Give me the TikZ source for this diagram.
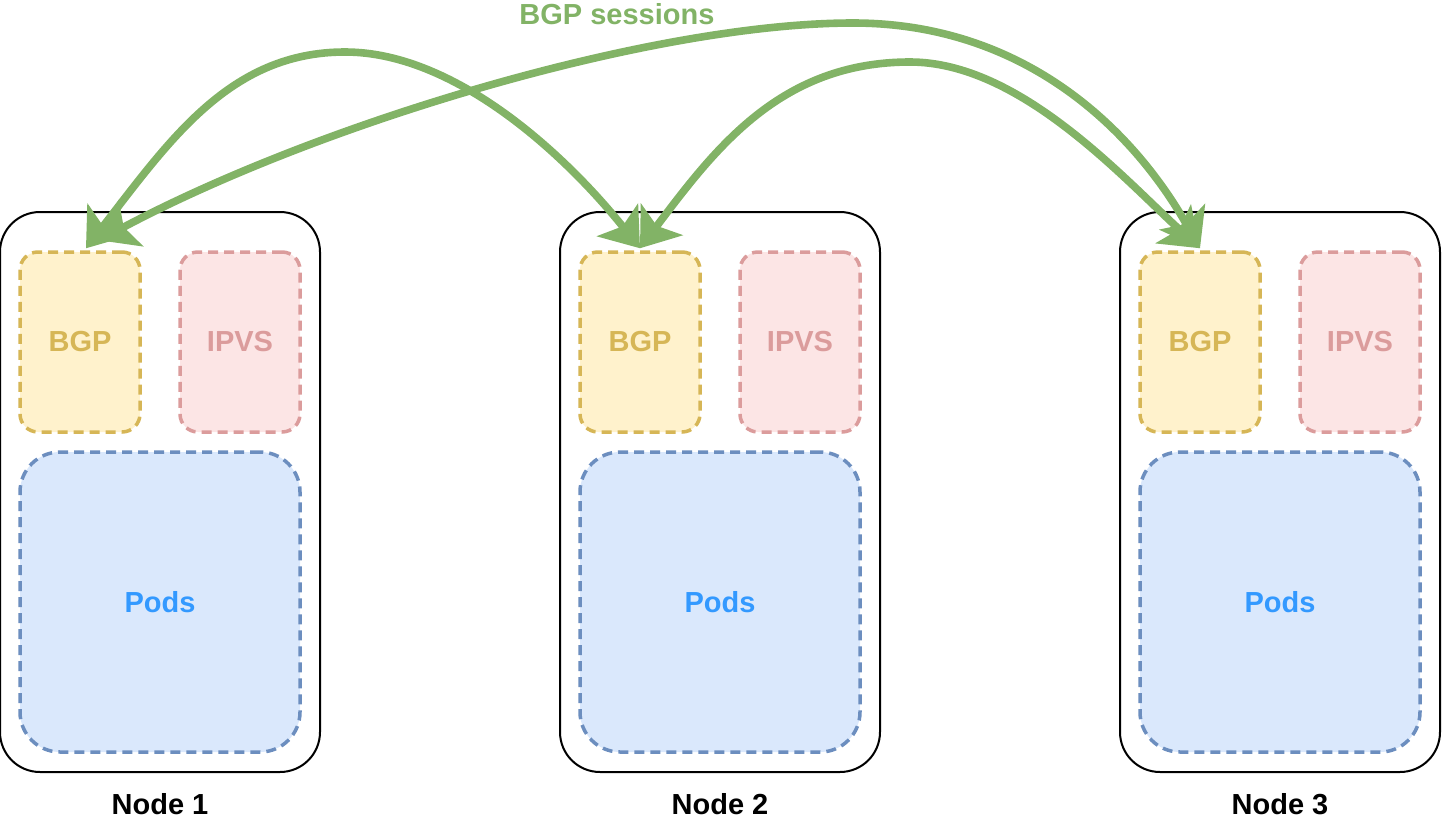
\documentclass[tikz,border=0pt]{standalone}
\usepackage{fontspec}
\setmainfont{Liberation Sans}
\usepackage{tikz}
\usetikzlibrary{arrows.meta,positioning}
\usepackage{xcolor}
\definecolor{sessiongreen}{RGB}{130,179,102}
\definecolor{bgpfill}{RGB}{255,242,204}
\definecolor{bgpline}{RGB}{214,182,86}
\definecolor{ipvsfill}{RGB}{252,229,229}
\definecolor{ipvsline}{RGB}{219,156,156}
\definecolor{podfill}{RGB}{218,232,252}
\definecolor{podline}{RGB}{108,142,191}
\definecolor{podtext}{RGB}{51,153,255}

\begin{document}
\begin{tikzpicture}[x=0.5pt,y=-0.5pt,
    label font/.style={font=\bfseries\fontsize{14.5}{17}\selectfont},
    hostbox/.style={draw=black,line width=1pt,rounded corners=20pt,minimum width=160pt,minimum height=280pt},
    inner box/.style={line width=1.75pt,dash pattern=on 5pt off 3pt,label font},
    bgpbox/.style={inner box,draw=bgpline,fill=bgpfill,text=bgpline,rounded corners=9pt,minimum width=60pt,minimum height=90pt},
    ipvsbox/.style={inner box,draw=ipvsline,fill=ipvsfill,text=ipvsline,rounded corners=9pt,minimum width=60pt,minimum height=90pt},
    podbox/.style={inner box,draw=podline,fill=podfill,text=podtext,rounded corners=20pt,minimum width=140pt,minimum height=150pt},
    hostlabel/.style={label font,inner sep=0pt},
    bgplink/.style={<->,>={Stealth[length=18pt,width=26pt,inset=4pt]},line width=3.8pt,color=sessiongreen}]
    \useasboundingbox (0,0) rectangle (1442,820);
    \node[hostbox] (host1) at (160,492) {}; % node 1
    \node[bgpbox] (bgp1) at (80,342) {BGP};
    \node[ipvsbox] (ipvs1) at (240,342) {IPVS};
    \node[podbox] (pods1) at (160,602) {Pods};
    \node[hostlabel,below=10pt of host1] (name1) {Node 1};
    \node[hostbox] (host2) at (720,492) {}; % node 2
    \node[bgpbox] (bgp2) at (640,342) {BGP};
    \node[ipvsbox] (ipvs2) at (800,342) {IPVS};
    \node[podbox] (pods2) at (720,602) {Pods};
    \node[hostlabel,below=10pt of host2] (name2) {Node 2};
    \node[hostbox] (host3) at (1280,492) {}; % node 3
    \node[bgpbox] (bgp3) at (1200,342) {BGP};
    \node[ipvsbox] (ipvs3) at (1360,342) {IPVS};
    \node[podbox] (pods3) at (1280,602) {Pods};
    \node[hostlabel,below=10pt of host3] (name3) {Node 3};
    \coordinate (in1a) at ([xshift=3pt,yshift=1pt]bgp1.north);
    \coordinate (in1b) at ([xshift=9.5pt,yshift=5pt]bgp1.north);
    \coordinate (in2) at ([yshift=1pt]bgp2.north);
    \coordinate (in3) at ([yshift=1pt]bgp3.north);
    \draw[bgplink] (in1a) .. controls (170,140) and (230,52) .. (345,52)
        .. controls (460,52) and (573,164) .. (in2); % 1 -- 2
    \draw[bgplink] (in1b) .. controls (319,123) and (653,23) .. (853,23)
        .. controls (1023,23) and (1132,128) .. (in3); % 1 -- 3
    \draw[bgplink] (in2) .. controls (715,149) and (780,62) .. (910,62)
        .. controls (1020,62) and (1124,179) .. (in3); % 2 -- 3
    \node[label font,text=sessiongreen,inner sep=0pt] (sessions) at (617,14) {BGP sessions};
\end{tikzpicture}
\end{document}
